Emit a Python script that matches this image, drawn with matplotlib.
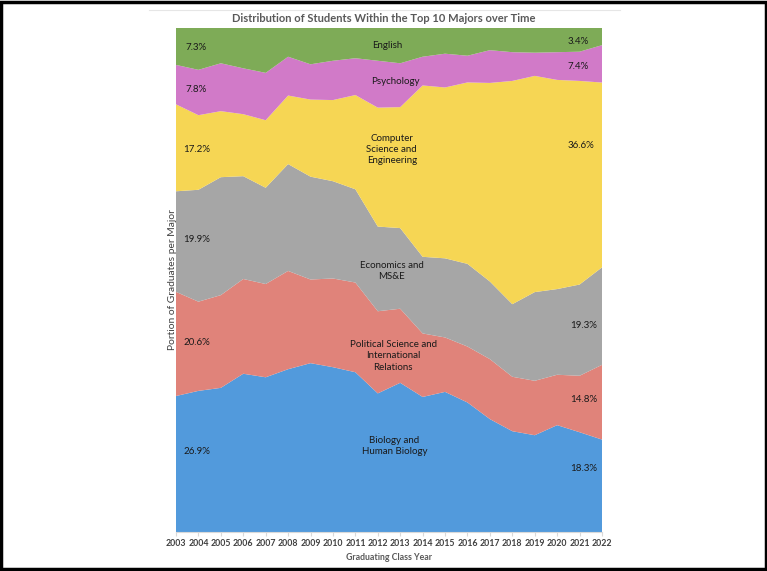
import matplotlib
matplotlib.use("Agg")
import matplotlib.pyplot as plt
import numpy as np
from matplotlib.patches import Rectangle
from matplotlib.lines import Line2D

years = list(range(2003, 2023))
biology   = [26.9, 28.0, 28.6, 31.4, 30.7, 32.3, 33.5, 32.7, 31.7, 27.5, 29.6, 26.8, 27.8, 25.7, 22.4, 20.0, 19.2, 21.2, 19.8, 18.3]
polisci   = [20.6, 17.7, 18.4, 18.8, 18.5, 19.5, 16.6, 17.6, 17.8, 16.3, 14.7, 12.6, 10.8, 11.1, 11.9, 10.8, 10.8, 10.0, 11.2, 14.8]
economics = [19.9, 22.2, 23.4, 20.4, 19.1, 21.2, 20.4, 19.3, 18.5, 16.8, 16.0, 15.2, 15.7, 16.4, 15.4, 14.4, 17.6, 17.0, 18.1, 19.3]
compsci   = [17.2, 14.8, 13.1, 12.3, 13.4, 13.6, 15.3, 16.1, 18.7, 23.6, 24.0, 34.0, 33.9, 36.0, 39.4, 44.3, 42.9, 41.5, 40.4, 36.6]
psychology= [7.8, 9.0, 9.5, 9.1, 9.4, 7.7, 7.0, 7.8, 7.3, 9.3, 8.7, 5.7, 6.7, 5.3, 6.5, 5.7, 4.6, 5.5, 5.8, 7.4]
english   = [7.3, 8.3, 7.0, 8.0, 8.9, 5.7, 7.2, 6.5, 6.0, 6.5, 7.0, 5.7, 5.1, 5.5, 4.4, 4.8, 4.9, 4.8, 4.7, 3.4]

series_names = ["Biology and\nHuman Biology",
                "Political Science and\nInternational\nRelations",
                "Economics and\nMS&E",
                "Computer\nScience and\nEngineering",
                "Psychology",
                "English"]
colors = ["#529ADC", "#E0837A", "#A6A6A6", "#F6D654", "#D17AC8", "#7EAB57"]

data = np.array([biology, polisci, economics, compsci, psychology, english], dtype=float)
shares = data / data.sum(axis=0) * 100

plt.rcParams['font.family'] = ['Lato', 'DejaVu Sans']

W, H = 767, 571
fig = plt.figure(figsize=(W/100, H/100), dpi=100)
ax = fig.add_axes([176/W, 1-532/H, (602-176)/W, (532-28)/H])
ax.stackplot(years, shares, colors=colors, linewidth=0)
ax.set_xlim(2003, 2022)
ax.set_ylim(0, 100)
ax.set_yticks([])
ax.set_xticks(years)
ax.set_xticklabels([str(y) for y in years], fontsize=6.3, fontweight='bold', color='#404040')
ax.tick_params(axis='x', length=3, color='#D9D9D9', pad=2)
for s in ['top', 'right', 'left']:
    ax.spines[s].set_visible(False)
ax.spines['bottom'].set_color('#D9D9D9')

ax.set_xlabel("Graduating Class Year", fontsize=6.3, fontweight='bold', color='#595959', labelpad=4)
ax.set_ylabel("Portion of Graduates per Major", fontsize=7.4, color='#404040', labelpad=-1)
fig.text(384/W, 1-18.5/H, "Distribution of Students Within the Top 10 Majors over Time",
         ha='center', va='center', fontsize=8, fontweight='bold', color='#595959')

def px(x, y):
    return x / W, 1 - y / H

lab_kw = dict(ha='center', va='center', fontsize=7, color='#1a1a1a', linespacing=1.35)
# center labels
for name, (x, y) in zip(series_names,
                        [(394.5, 446), (393.3, 356), (391.7, 271), (391.7, 149.5), (395, 81.7), (387.3, 45.7)]):
    fig.text(*px(x, y), name, **lab_kw)

# left labels (2003)
left_pos = [451, 342.3, 239.3, 149, 89.3, 47.7]
for vals, y in zip([biology, polisci, economics, compsci, psychology, english], left_pos):
    fig.text(*px(196.5, y), f"{vals[0]:.1f}%", **lab_kw)
right_pos = [468.3, 399.3, 325.7, 145, 66.7, 41.7]
right_x = [583.3, 583.3, 584, 580.5, 578.3, 578.3]
for vals, y, x in zip([biology, polisci, economics, compsci, psychology, english], right_pos, right_x):
    fig.text(*px(x, y), f"{vals[-1]:.1f}%", **lab_kw)

# faint chart-area line and black frame
fig.add_artist(Line2D([149/W, 620/W], [1-10/H, 1-10/H], color='#E6E6E6', lw=0.8))
fig.add_artist(Rectangle((0.0015, 0.003), 0.997, 0.994, transform=fig.transFigure,
                         fill=False, edgecolor='black', lw=2.5))

fig.savefig("out.png", dpi=100)
